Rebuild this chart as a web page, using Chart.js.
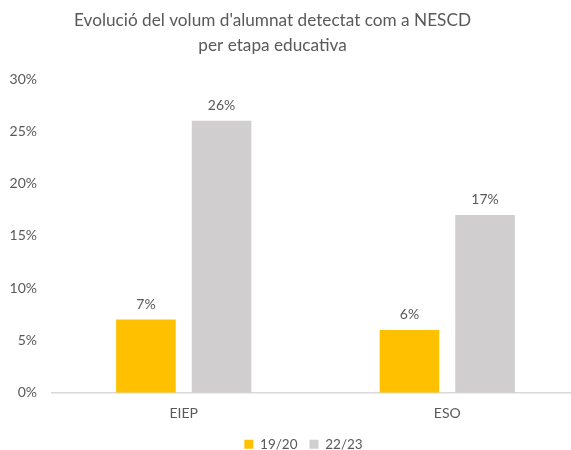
<!DOCTYPE html>
<html>
<head>
<meta charset="utf-8">
<script src="https://cdn.jsdelivr.net/npm/chart.js@4/dist/chart.umd.min.js"></script>
<style>
  html, body { margin: 0; padding: 0; background: #fff; overflow: hidden; }
  #wrap { width: 579px; height: 461px; position: relative; }
</style>
</head>
<body>
<div id="wrap"><canvas id="graphCanvas"></canvas></div>
<script>
const categories = ['EIEP', 'ESO'];
const serie1920 = [7, 6];
const serie2223 = [26, 17];
const seriesLabels = ['19/20', '22/23'];
const titleLines = ["Evolució del volum d'alumnat detectat com a NESCD", 'per etapa educativa'];

const textColor = '#595959';
const fontFamily = 'Lato, "Open Sans", sans-serif';

// title drawn by hand, it sits a bit left of the canvas centre
const chartTitle = {
    id: 'chartTitle',
    afterDraw(chart) {
        const ctx = chart.ctx;
        ctx.save();
        ctx.fillStyle = textColor;
        ctx.font = '17.2px ' + fontFamily;
        ctx.textAlign = 'center';
        ctx.textBaseline = 'middle';
        titleLines.forEach(function (line, i) {
            ctx.fillText(line, 272.5, 20 + i * 25);
        });
        ctx.restore();
    }
};

// legend in the original is a little right of centre
const legendShift = {
    id: 'legendShift',
    beforeDraw(chart) {
        if (chart.legend && !chart.legend._shifted) {
            chart.legend.left += 14;
            chart.legend.right += 14;
            chart.legend._shifted = true;
        }
    }
};

// draws the value above every bar
const barLabels = {
    id: 'barLabels',
    afterDatasetsDraw(chart) {
        const ctx = chart.ctx;
        ctx.save();
        ctx.fillStyle = textColor;
        ctx.font = '14px ' + fontFamily;
        ctx.textAlign = 'center';
        ctx.textBaseline = 'bottom';
        chart.data.datasets.forEach(function (ds, i) {
            chart.getDatasetMeta(i).data.forEach(function (bar, j) {
                ctx.fillText(ds.data[j] + '%', bar.x, bar.y - 8);
            });
        });
        ctx.restore();
    }
};

new Chart(document.getElementById('graphCanvas'), {
    type: 'bar',
    data: {
        labels: categories,
        datasets: [
            { label: seriesLabels[0], data: serie1920, backgroundColor: '#FFC000' },
            { label: seriesLabels[1], data: serie2223, backgroundColor: '#D0CECE' }
        ]
    },
    options: {
        responsive: true,
        maintainAspectRatio: false,
        animation: false,
        categoryPercentage: 0.574,
        barPercentage: 0.788,
        layout: { padding: { left: 0, right: 0, top: 79, bottom: 0 } },
        plugins: {
            title: { display: false },
            legend: {
                position: 'bottom',
                labels: {
                    color: textColor,
                    boxWidth: 9,
                    boxHeight: 9,
                    padding: 12,
                    font: { family: fontFamily, size: 13.5 }
                }
            },
            tooltip: { enabled: false }
        },
        scales: {
            x: {
                grid: { display: false },
                border: { color: '#D9D9D9', width: 1.5 },
                ticks: { color: textColor, padding: 4, font: { family: fontFamily, size: 14 } }
            },
            y: {
                min: 0,
                max: 30,
                grid: { display: false, drawTicks: false },
                border: { display: false },
                afterFit: function (scale) { scale.width = 52; },
                ticks: {
                    stepSize: 5,
                    color: textColor,
                    padding: 15,
                    font: { family: fontFamily, size: 14 },
                    callback: function (v) { return v + '%'; }
                }
            }
        }
    },
    plugins: [barLabels, chartTitle, legendShift]
});
</script>
</body>
</html>
